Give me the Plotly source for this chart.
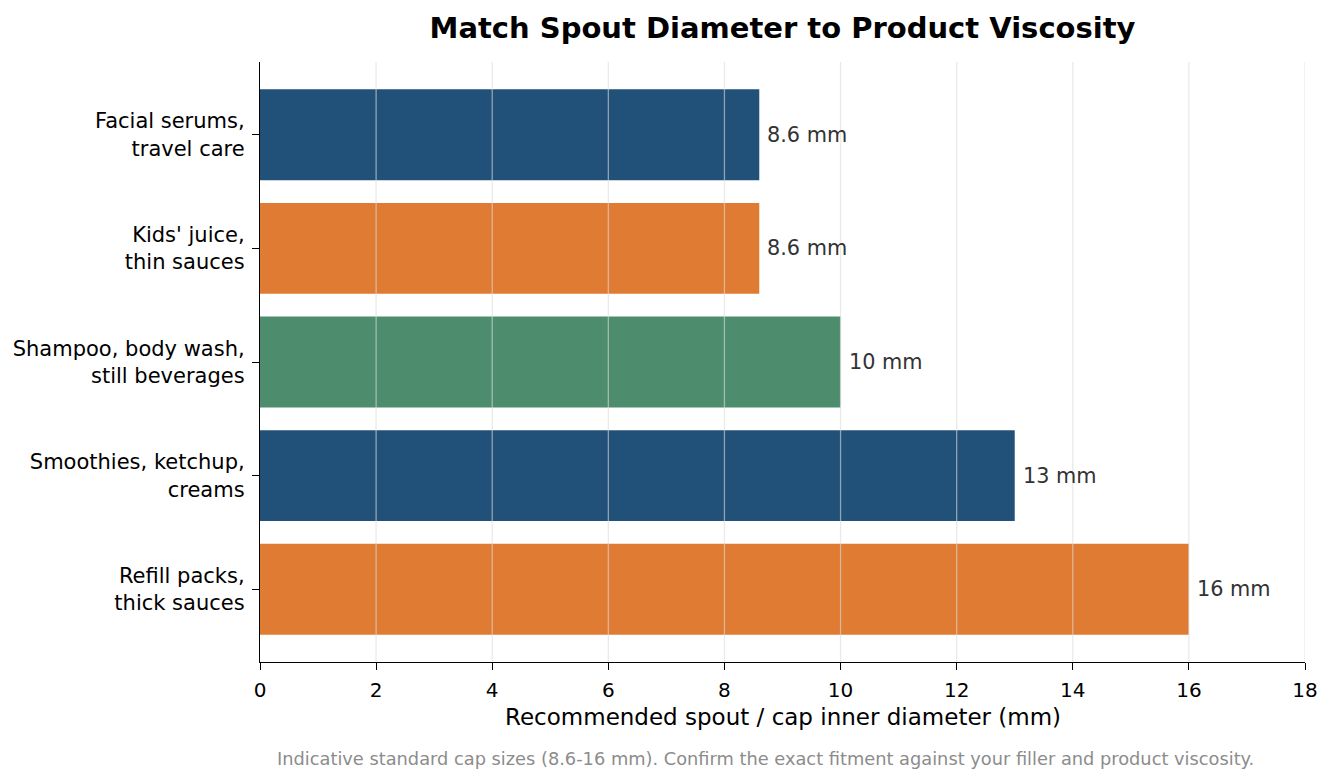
import plotly.graph_objects as go

categories = [
    "Facial serums,<br>travel care",
    "Kids' juice,<br>thin sauces",
    "Shampoo, body wash,<br>still beverages",
    "Smoothies, ketchup,<br>creams",
    "Refill packs,<br>thick sauces",
]
diameters = [8.6, 8.6, 10, 13, 16]
value_labels = ["8.6 mm", "8.6 mm", "10 mm", "13 mm", "16 mm"]
bar_colors = ["#215078", "#e07b33", "#4e8c6e", "#215078", "#e07b33"]
x_ticks = [0, 2, 4, 6, 8, 10, 12, 14, 16, 18]

font_family = "DejaVu Sans"

fig = go.Figure()
fig.add_trace(go.Bar(
    x=diameters,
    y=categories,
    orientation="h",
    width=0.8,
    marker=dict(color=bar_colors, line=dict(width=0)),
    hoverinfo="skip",
))

# value labels just past the end of each bar
for cat, val, lab in zip(categories, diameters, value_labels):
    fig.add_annotation(
        x=val, y=cat, text=lab, showarrow=False,
        xanchor="left", xshift=6,
        font=dict(family=font_family, size=20.8, color="#333333"),
    )

# matplotlib-style grid drawn over the bars
for t in x_ticks[1:]:
    fig.add_shape(
        type="line", xref="x", yref="paper", x0=t, x1=t, y0=0, y1=1,
        line=dict(color="rgba(220,220,220,0.6)", width=1.3), layer="above",
    )

# x axis title placed by hand so it sits like the reference
fig.add_annotation(
    text="Recommended spout / cap inner diameter (mm)",
    xref="paper", yref="paper", x=0.5, y=-0.092, yanchor="middle",
    showarrow=False, font=dict(family=font_family, size=23, color="black"),
)

fig.add_annotation(
    text="Indicative standard cap sizes (8.6-16 mm). Confirm the exact fitment against your filler and product viscosity.",
    xref="paper", yref="paper", x=0.484, y=-0.161, yanchor="middle",
    showarrow=False, font=dict(family=font_family, size=17.8, color="#8c8c8c"),
)

# page body has an 8px margin, so the figure is 16px smaller than the window
fig.update_layout(
    width=1318, height=767,
    margin=dict(l=252, r=21, t=54, b=113),
    plot_bgcolor="white", paper_bgcolor="white",
    font=dict(family=font_family, color="black"),
    showlegend=False,
    title=dict(
        text="<b>Match Spout Diameter to Product Viscosity</b>",
        xref="paper", x=0.5, xanchor="center", y=0.974, yanchor="middle",
        font=dict(family=font_family, size=29, color="black"),
    ),
    xaxis=dict(
        range=[0, 18], tickvals=x_ticks, showgrid=False, zeroline=False,
        showline=True, linecolor="black", linewidth=1.3,
        ticks="outside", ticklen=7, tickcolor="black", tickwidth=1.3,
        tickfont=dict(size=20, color="black"),
        ticklabelstandoff=3, automargin=False,
    ),
    yaxis=dict(
        range=[4.64, -0.64], showgrid=False, zeroline=False,
        showline=True, linecolor="black", linewidth=1.3,
        ticks="outside", ticklen=7, tickcolor="black", tickwidth=1.3,
        tickfont=dict(size=21, color="black"),
        ticklabelstandoff=3, automargin=False,
    ),
)

fig.write_html("out.html")
